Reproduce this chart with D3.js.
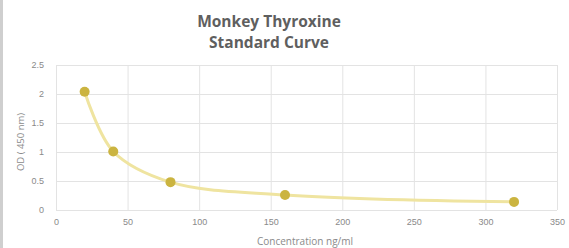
<!DOCTYPE html>
<html>
<head>
<meta charset="utf-8">
<script src="https://cdnjs.cloudflare.com/ajax/libs/d3/7.8.5/d3.min.js"></script>
<style>
  body { margin: 0; background: #fff; }
  svg { display: block; font-family: "Open Sans", sans-serif; }
</style>
</head>
<body>
<script>
var concentration = [20, 40, 80, 160, 320];
var od = [2.04, 1.01, 0.48, 0.26, 0.14];
var xTicks = [0, 50, 100, 150, 200, 250, 300, 350];
var yTicks = [0, 0.5, 1, 1.5, 2, 2.5];
var titleLines = ["Monkey Thyroxine", "Standard Curve"];

var svgWidth = 569;
var svgHeight = 248;
var margin = {top: 65, right: 12, bottom: 38, left: 56};
var width = svgWidth - margin.left - margin.right;
var height = svgHeight - margin.top - margin.bottom;

var svg = d3.select("body").append("svg")
  .attr("width", svgWidth)
  .attr("height", svgHeight);

// chart border on the left
svg.append("rect")
  .attr("x", 1.5).attr("y", -2)
  .attr("width", svgWidth).attr("height", svgHeight + 4)
  .attr("fill", "none")
  .attr("stroke", "#cfcfcf")
  .attr("stroke-width", 3);

var chartGroup = svg.append("g")
  .attr("transform", "translate(" + margin.left + "," + margin.top + ")");

var x = d3.scaleLinear().domain([0, 350]).range([0, width]);
var y = d3.scaleLinear().domain([0, 2.5]).range([height, 0]);

// gridlines
chartGroup.append("g")
  .call(d3.axisBottom(x).tickValues(xTicks).tickSize(height).tickFormat(""))
  .call(g => g.select(".domain").remove())
  .call(g => g.selectAll("line").attr("stroke", "#e3e3e3"));

chartGroup.append("g")
  .call(d3.axisLeft(y).tickValues(yTicks).tickSize(-width).tickFormat(""))
  .call(g => g.select(".domain").remove())
  .call(g => g.selectAll("line").attr("stroke", "#e3e3e3"));

// tick labels
chartGroup.append("g")
  .attr("transform", "translate(0," + height + ")")
  .call(d3.axisBottom(x).tickValues(xTicks).tickSize(0).tickPadding(9))
  .call(g => g.select(".domain").remove())
  .call(g => g.selectAll("text").attr("fill", "#8a8a8a").style("font-size", "9px"));

chartGroup.append("g")
  .call(d3.axisLeft(y).tickValues(yTicks).tickSize(0).tickPadding(12).tickFormat(d => String(d)))
  .call(g => g.select(".domain").remove())
  .call(g => g.selectAll("text").attr("fill", "#8a8a8a").style("font-size", "9px"));

// smoothed curve
var line = d3.line()
  .x((d, i) => x(concentration[i]))
  .y(d => y(d))
  .curve(d3.curveCatmullRom.alpha(0.5));

chartGroup.append("path")
  .datum(od)
  .attr("d", line)
  .attr("fill", "none")
  .attr("stroke", "#efe4a0")
  .attr("stroke-width", 3);

chartGroup.selectAll("circle")
  .data(od)
  .enter()
  .append("circle")
  .attr("cx", (d, i) => x(concentration[i]))
  .attr("cy", d => y(d))
  .attr("r", 5)
  .attr("fill", "#cbb440");

// title
svg.append("g").selectAll("text")
  .data(titleLines)
  .enter()
  .append("text")
  .attr("x", 269)
  .attr("y", (d, i) => 27 + i * 21)
  .attr("text-anchor", "middle")
  .attr("fill", "#5f5f5f")
  .style("font-size", "15.5px")
  .style("font-weight", "bold")
  .text(d => d);

// axis titles
svg.append("text")
  .attr("transform", "translate(24," + 142 + ") rotate(-90)")
  .attr("text-anchor", "middle")
  .attr("fill", "#8a8a8a")
  .style("font-size", "9.5px")
  .text("OD ( 450 nm)");

svg.append("text")
  .attr("x", 305)
  .attr("y", 245)
  .attr("text-anchor", "middle")
  .attr("fill", "#8a8a8a")
  .style("font-size", "10px")
  .text("Concentration ng/ml");
</script>
</body>
</html>
